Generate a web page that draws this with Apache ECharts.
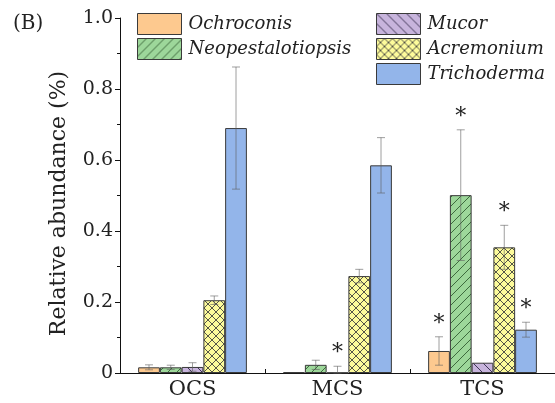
<!DOCTYPE html>
<html>
<head>
<meta charset="utf-8">
<script src="https://cdn.jsdelivr.net/npm/echarts@6/dist/echarts.min.js"></script>
<style>
  html, body { margin: 0; padding: 0; background: #ffffff; }
  #chart { width: 555px; height: 403px; }
</style>
</head>
<body>
<div id="chart"></div>
<script>
// Sample groups on the x axis
const categories = ['OCS', 'MCS', 'TCS'];

// Fungal genera (series order)
const genera = ['Ochroconis', 'Neopestalotiopsis', 'Mucor', 'Acremonium', 'Trichoderma'];

// Mean relative abundance (%) per group, one array per genus
const ochroconis        = [0.016, 0.002, 0.062];
const neopestalotiopsis = [0.016, 0.023, 0.501];
const mucor             = [0.017, 0.001, 0.029];
const acremonium        = [0.205, 0.273, 0.354];
const trichoderma       = [0.690, 0.585, 0.122];

// Standard deviations
const ochroconisErr        = [0.007, 0.000, 0.040];
const neopestalotiopsisErr = [0.006, 0.013, 0.184];
const mucorErr             = [0.012, 0.018, 0.000];
const acremoniumErr        = [0.012, 0.019, 0.062];
const trichodermaErr       = [0.172, 0.078, 0.021];

// Significance marks (1 = asterisk drawn above the error bar)
const ochroconisSig        = [0, 0, 1];
const neopestalotiopsisSig = [0, 0, 1];
const mucorSig             = [0, 1, 0];
const acremoniumSig        = [0, 0, 1];
const trichodermaSig       = [0, 0, 1];

// Y axis ticks
const yMin = 0, yMax = 1.0, yStep = 0.2;

const values = [ochroconis, neopestalotiopsis, mucor, acremonium, trichoderma];
const errors = [ochroconisErr, neopestalotiopsisErr, mucorErr, acremoniumErr, trichodermaErr];
const sigs   = [ochroconisSig, neopestalotiopsisSig, mucorSig, acremoniumSig, trichodermaSig];

// Fill patterns: background colour + hatch directions ('/', '\\')
function makeTile(bg, lineColor, dirs, size) {
  const c = document.createElement('canvas');
  c.width = size; c.height = size;
  const g = c.getContext('2d');
  g.fillStyle = bg;
  g.fillRect(0, 0, size, size);
  g.strokeStyle = lineColor;
  g.lineWidth = 1;
  dirs.forEach(function (d) {
    g.beginPath();
    if (d === '/') {
      g.moveTo(-1, size + 1); g.lineTo(size + 1, -1);
      g.moveTo(-1, 1); g.lineTo(1, -1);
      g.moveTo(size - 1, size + 1); g.lineTo(size + 1, size - 1);
    } else {
      g.moveTo(-1, -1); g.lineTo(size + 1, size + 1);
      g.moveTo(size - 1, -1); g.lineTo(size + 1, 1);
      g.moveTo(-1, size - 1); g.lineTo(1, size + 1);
    }
    g.stroke();
  });
  return { image: c, repeat: 'repeat' };
}

const fills = [
  '#fdc98f',
  makeTile('#9dd79a', '#3d6a3d', ['/'], 9),
  makeTile('#c7b4dc', '#3f3556', ['\\'], 10),
  makeTile('#fdfb9b', '#555548', ['/', '\\'], 8),
  '#93b5ea'
];

const serif = 'DejaVu Serif';
const gapRatio = 0.25;

const barSeries = genera.map(function (name, i) {
  return {
    name: name,
    type: 'bar',
    data: values[i],
    barGap: '0%',
    barCategoryGap: (gapRatio * 100) + '%',
    itemStyle: { color: fills[i], borderColor: '#3a3a3a', borderWidth: 1 },
    emphasis: { disabled: true },
    z: 2
  };
});

// Error bars and asterisks, placed on the same band slots as the bars
const errorData = [];
genera.forEach(function (g, i) {
  categories.forEach(function (c, j) {
    errorData.push([j, values[i][j], errors[i][j], sigs[i][j], i]);
  });
});

const errorSeries = {
  type: 'custom',
  name: 'errors',
  data: errorData,
  z: 5,
  silent: true,
  renderItem: function (params, api) {
    const cat = api.value(0), v = api.value(1), e = api.value(2), s = api.value(3), k = api.value(4);
    const band = api.size([1, 0])[0];
    const bw = band * (1 - gapRatio) / genera.length;
    const cx = api.coord([cat, 0])[0] + (k - (genera.length - 1) / 2) * bw;
    const yTop = api.coord([cat, v + e])[1];
    const yBot = api.coord([cat, Math.max(v - e, 0)])[1];
    const cap = 4;
    const children = [];
    const st = { stroke: 'rgba(95,95,95,0.6)', lineWidth: 1 };
    if (e > 0) {
      children.push({ type: 'line', shape: { x1: cx, y1: yTop, x2: cx, y2: yBot }, style: st });
      children.push({ type: 'line', shape: { x1: cx - cap, y1: yTop, x2: cx + cap, y2: yTop }, style: st });
      children.push({ type: 'line', shape: { x1: cx - cap, y1: yBot, x2: cx + cap, y2: yBot }, style: st });
    }
    if (s) {
      children.push({
        type: 'text',
        style: {
          text: '*', x: cx, y: yTop - 2,
          fontFamily: serif, fontSize: 22, fill: '#222',
          align: 'center', verticalAlign: 'bottom'
        }
      });
    }
    return { type: 'group', children: children };
  }
};

const chart = echarts.init(document.getElementById('chart'), null, { renderer: 'canvas' });

const legendCommon = {
  orient: 'vertical',
  padding: 0,
  itemWidth: 44,
  itemHeight: 21,
  itemGap: 3,
  selectedMode: false,
  icon: 'rect',
  itemStyle: { borderColor: '#3a3a3a', borderWidth: 1 },
  textStyle: { fontFamily: serif, fontStyle: 'italic', fontSize: 18, lineHeight: 21, color: '#222', padding: [0, 0, 0, 2] }
};

chart.setOption({
  animation: false,
  backgroundColor: '#ffffff',
  title: {
    text: '(B)', left: 8, top: 9,
    textStyle: { fontFamily: serif, fontWeight: 'normal', fontSize: 20, color: '#222' }
  },
  legend: [
    Object.assign({ data: genera.slice(0, 2), left: 137, top: 13 }, legendCommon),
    Object.assign({ data: genera.slice(2), left: 376, top: 13 }, legendCommon)
  ],
  grid: { left: 120, right: -3, top: 18, bottom: 30, containLabel: false },
  xAxis: {
    type: 'category',
    data: categories,
    axisLine: { lineStyle: { color: '#111', width: 1 } },
    axisTick: { show: true, inside: true, length: 4, alignWithLabel: false, lineStyle: { color: '#111' } },
    axisLabel: { fontFamily: serif, fontSize: 21, color: '#222', margin: 6 }
  },
  yAxis: {
    type: 'value',
    min: yMin, max: yMax, interval: yStep,
    name: 'Relative abundance (%)',
    nameLocation: 'middle',
    nameGap: 50,
    nameTextStyle: { fontFamily: serif, fontSize: 22, color: '#222', padding: [0, 16, 0, 0] },
    axisLine: { show: true, lineStyle: { color: '#111', width: 1 } },
    axisTick: { show: true, length: 5, lineStyle: { color: '#111' } },
    minorTick: { show: true, splitNumber: 2, length: 3, lineStyle: { color: '#111' } },
    splitLine: { show: false },
    axisLabel: {
      fontFamily: serif, fontSize: 19, color: '#222', margin: 7,
      formatter: function (v) { return v === 0 ? '0' : v.toFixed(1); }
    }
  },
  series: barSeries.concat([errorSeries])
});
</script>
</body>
</html>
